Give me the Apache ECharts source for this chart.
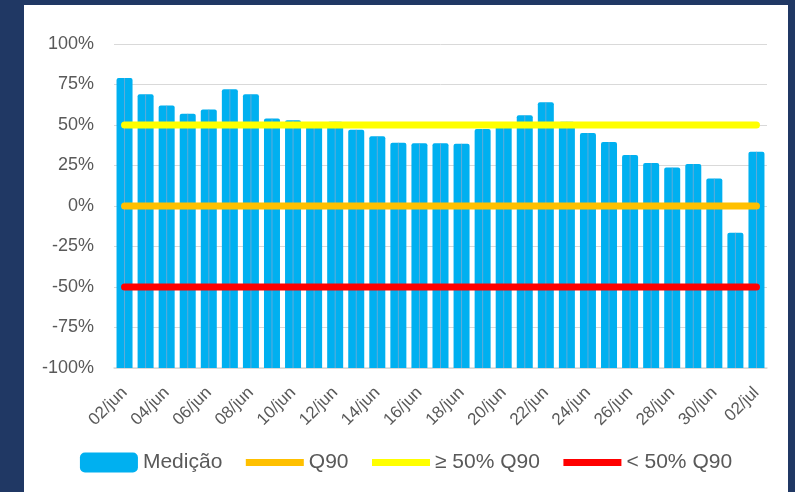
<!DOCTYPE html>
<html>
<head>
<meta charset="utf-8">
<script src="https://cdn.jsdelivr.net/npm/echarts@6/dist/echarts.min.js"></script>
<style>
  html, body { margin: 0; padding: 0; background: #203864; }
  #chart { position: absolute; left: 24px; top: 5px; width: 764px; height: 487px; background: #fff; }
</style>
</head>
<body>
<div id="chart"></div>
<script>
// dias (02/jun .. 02/jul)
const categories = ['02/jun','03/jun','04/jun','05/jun','06/jun','07/jun','08/jun','09/jun','10/jun','11/jun',
  '12/jun','13/jun','14/jun','15/jun','16/jun','17/jun','18/jun','19/jun','20/jun','21/jun','22/jun',
  '23/jun','24/jun','25/jun','26/jun','27/jun','28/jun','29/jun','30/jun','01/jul','02/jul'];
// medição em %
const medicao = [79, 69, 62, 57, 59.5, 72, 69, 54, 53, 51, 52, 47, 43, 39, 38.7, 38.7, 38.5, 47.5, 49,
  56, 64, 52, 45, 39.5, 31.5, 26.5, 23.7, 26, 17, -16.5, 33.5];
// níveis de referência
const nivelQ90 = 0;
const nivelAcima = 50;
const nivelAbaixo = -50;
const yTicks = [-100, -75, -50, -25, 0, 25, 50, 75, 100];

// as barras partem de -100%, por isso o eixo é deslocado em +100
const base = 100;
const shift = v => v + base;
const font = 'Liberation Sans';
const cinza = '#595959';

const chart = echarts.init(document.getElementById('chart'));

function refLine(name, level, color) {
  return {
    name: name,
    type: 'line',
    data: categories.map(() => shift(level)),
    symbol: 'none',
    lineStyle: { color: color, width: 7, cap: 'round' },
    itemStyle: { color: color },
    z: 4
  };
}

const lineItem = name => ({ name: name, itemStyle: { opacity: 0 } });

const option = {
  animation: false,
  textStyle: { fontFamily: font },
  grid: { left: 90, right: 21, top: 39, bottom: 124 },
  legend: {
    bottom: 14,
    left: 'center',
    itemWidth: 58,
    itemHeight: 20,
    itemGap: 20,
    lineStyle: { width: 7, cap: 'butt' },
    textStyle: { fontSize: 21, color: cinza, fontFamily: font },
    data: [
      { name: 'Medição', icon: 'roundRect' },
      lineItem('Q90'), lineItem('≥ 50% Q90'), lineItem('< 50% Q90')
    ]
  },
  xAxis: [{
    type: 'category',
    data: categories,
    axisLine: { lineStyle: { color: '#d9d9d9', width: 1.5 } },
    axisTick: { interval: 1, length: 5, lineStyle: { color: '#d9d9d9', width: 1.5 } },
    axisLabel: { interval: 1, rotate: 45, fontSize: 17, color: cinza, margin: 22 }
  }, {
    // eixo auxiliar para o traço fino dentro das barras
    type: 'category',
    data: categories,
    show: false
  }],
  yAxis: {
    type: 'value',
    min: shift(yTicks[0]),
    max: shift(yTicks[yTicks.length - 1]),
    interval: 25,
    axisLine: { show: false },
    axisTick: { show: false },
    axisLabel: {
      fontSize: 18, color: cinza, margin: 20,
      formatter: v => (v - base) + '%'
    },
    splitLine: { lineStyle: { color: '#d9d9d9', width: 1 } }
  },
  series: [
    {
      name: 'Medição',
      type: 'bar',
      data: medicao.map(shift),
      barWidth: 16,
      itemStyle: { color: '#00B0F0', borderRadius: [2, 2, 0, 0] },
      z: 2
    },
    {
      name: 'Medição',
      type: 'bar',
      xAxisIndex: 1,
      data: medicao.map(shift),
      barWidth: 1,
      itemStyle: { color: '#8aa9cf', opacity: 0.7 },
      z: 3
    },
    refLine('Q90', nivelQ90, '#FFC000'),
    refLine('≥ 50% Q90', nivelAcima, '#FFFF00'),
    refLine('< 50% Q90', nivelAbaixo, '#FF0000')
  ]
};
chart.setOption(option);
</script>
</body>
</html>
